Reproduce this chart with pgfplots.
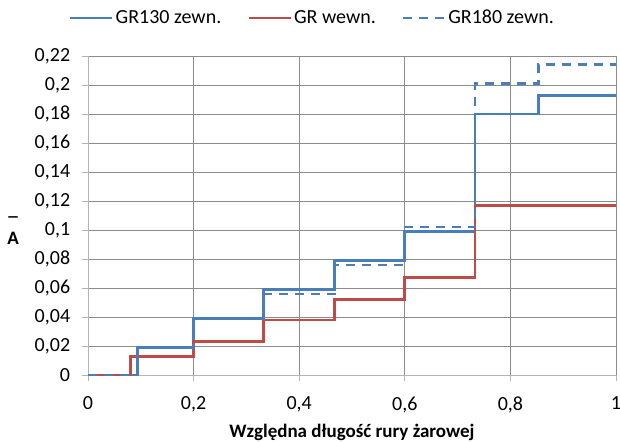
\documentclass[border=0pt]{standalone}
\usepackage{pgfplots}
\pgfplotsset{compat=1.18}
\usepackage{fontspec}
\setmainfont{Carlito}

\definecolor{serBlue}{HTML}{4A7EBB}
\definecolor{serRed}{HTML}{BE4B48}
\definecolor{gridGray}{HTML}{8C8C8C}
\definecolor{axGray}{HTML}{B4B4B4}

\begin{document}
\fontsize{20}{24}\selectfont
\begin{tikzpicture}
\useasboundingbox (-88pt,-66pt) rectangle (532pt,375pt);
\begin{axis}[
  at={(0pt,0pt)}, anchor=south west,
  scale only axis, width=528pt, height=319pt,
  xmin=0, xmax=1, ymin=0, ymax=0.22,
  xtick={0,0.2,0.4,0.6,0.8,1},
  ytick={0,0.02,0.04,0.06,0.08,0.1,0.12,0.14,0.16,0.18,0.2,0.22},
  /pgf/number format/.cd, fixed, precision=2, use comma, assume math mode=true,
  /pgfplots/.cd,
  xticklabel style={font=\fontsize{20}{24}\selectfont, yshift=-9pt},
  yticklabel style={font=\fontsize{20}{24}\selectfont, xshift=-5pt},
  grid=major,
  major grid style={gridGray, line width=0.9pt},
  axis line style={axGray, line width=0.9pt},
  axis x line*=bottom, axis y line*=left,
  tick style={axGray, line width=0.9pt},
  tick align=outside, major tick length=6pt,
  xlabel={\textbf{Względna długość rury żarowej}},
  xlabel style={at={(axis description cs:0.5,-0.179)}, anchor=center,
    font=\fontsize{19}{23}\selectfont},
  ylabel={\textbf{\_}\\[6pt]\textbf{A}},
  ylabel style={at={(axis description cs:-0.142,0.455)}, rotate=-90, anchor=center, align=center,
    font=\fontsize{19}{23}\selectfont},
  legend columns=3,
  legend style={at={(0.425,1.119)}, anchor=center, draw=none, fill=none,
    font=\fontsize{20}{24}\selectfont,
    /tikz/every even column/.append style={column sep=24pt}},
  legend image code/.code={\draw[#1] (0pt,0pt) -- (42pt,0pt);},
  clip=false,
]
% GR130, outer surface
\addplot[const plot mark left, serBlue, line width=2.8pt] coordinates {
  (0,0) (0.093,0.019) (0.2,0.039) (0.333,0.059) (0.467,0.079)
  (0.6,0.099) (0.733,0.18) (0.853,0.193) (1,0.193)};
\addlegendentry{GR130 zewn.}
% GR, inner surface
\addplot[const plot mark left, serRed, line width=2.8pt] coordinates {
  (0,0) (0.08,0.0125) (0.2,0.023) (0.333,0.038) (0.467,0.052)
  (0.6,0.067) (0.733,0.117) (1,0.117)};
\addlegendentry{GR wewn.}
% GR180, outer surface
\addplot[const plot mark left, serBlue, line width=2.4pt, dash pattern=on 9pt off 7pt] coordinates {
  (0,0) (0.093,0.019) (0.2,0.039) (0.333,0.056) (0.467,0.076)
  (0.6,0.102) (0.733,0.201) (0.853,0.214) (1,0.214)};
\addlegendentry{GR180 zewn.}
\end{axis}
\end{tikzpicture}
\end{document}
